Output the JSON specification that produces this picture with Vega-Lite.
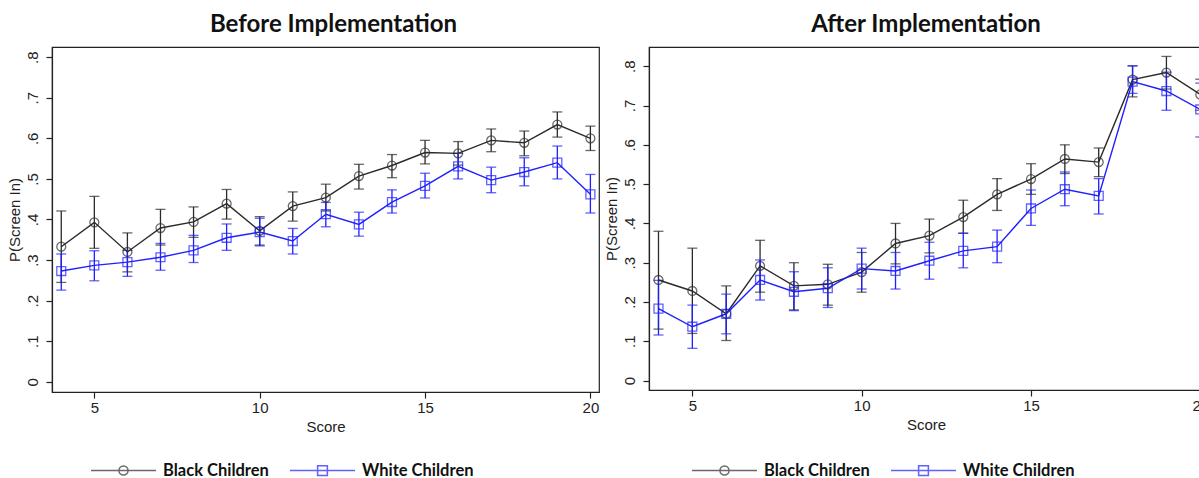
{
  "$schema": "https://vega.github.io/schema/vega-lite/v6.json",
  "background": "white",
  "padding": {"left": 6, "top": 12, "right": 0, "bottom": 0},
  "spacing": 3,
  "config": {
    "view": {"stroke": "#222222", "strokeWidth": 1.2},
    "font": "Liberation Sans",
    "axis": {"domainColor": "#222222", "tickColor": "#222222", "labelColor": "#222222", "titleColor": "#222222", "labelFont": "Liberation Sans", "titleFont": "Liberation Sans", "labelFontSize": 15, "titleFontSize": 15, "titleFontWeight": "normal", "grid": false, "tickSize": 6, "domainWidth": 1.2, "tickWidth": 1.2},
    "title": {"font": "Lato", "fontSize": 24, "fontWeight": "bold", "color": "#111111", "anchor": "middle", "offset": 10}
  },
  "datasets": {
    "d": [
      {"panel": "Before", "group": "Black Children", "score": 4, "p": 0.333, "lo": 0.245, "hi": 0.421},
      {"panel": "Before", "group": "Black Children", "score": 5, "p": 0.393, "lo": 0.329, "hi": 0.457},
      {"panel": "Before", "group": "Black Children", "score": 6, "p": 0.320, "lo": 0.271, "hi": 0.367},
      {"panel": "Before", "group": "Black Children", "score": 7, "p": 0.379, "lo": 0.337, "hi": 0.425},
      {"panel": "Before", "group": "Black Children", "score": 8, "p": 0.394, "lo": 0.356, "hi": 0.431},
      {"panel": "Before", "group": "Black Children", "score": 9, "p": 0.439, "lo": 0.401, "hi": 0.474},
      {"panel": "Before", "group": "Black Children", "score": 10, "p": 0.372, "lo": 0.337, "hi": 0.407},
      {"panel": "Before", "group": "Black Children", "score": 11, "p": 0.433, "lo": 0.396, "hi": 0.468},
      {"panel": "Before", "group": "Black Children", "score": 12, "p": 0.454, "lo": 0.421, "hi": 0.487},
      {"panel": "Before", "group": "Black Children", "score": 13, "p": 0.507, "lo": 0.475, "hi": 0.536},
      {"panel": "Before", "group": "Black Children", "score": 14, "p": 0.533, "lo": 0.503, "hi": 0.560},
      {"panel": "Before", "group": "Black Children", "score": 15, "p": 0.565, "lo": 0.537, "hi": 0.595},
      {"panel": "Before", "group": "Black Children", "score": 16, "p": 0.563, "lo": 0.534, "hi": 0.592},
      {"panel": "Before", "group": "Black Children", "score": 17, "p": 0.595, "lo": 0.567, "hi": 0.623},
      {"panel": "Before", "group": "Black Children", "score": 18, "p": 0.589, "lo": 0.557, "hi": 0.618},
      {"panel": "Before", "group": "Black Children", "score": 19, "p": 0.634, "lo": 0.603, "hi": 0.665},
      {"panel": "Before", "group": "Black Children", "score": 20, "p": 0.600, "lo": 0.570, "hi": 0.630},
      {"panel": "Before", "group": "White Children", "score": 4, "p": 0.273, "lo": 0.226, "hi": 0.315},
      {"panel": "Before", "group": "White Children", "score": 5, "p": 0.287, "lo": 0.249, "hi": 0.323},
      {"panel": "Before", "group": "White Children", "score": 6, "p": 0.295, "lo": 0.260, "hi": 0.324},
      {"panel": "Before", "group": "White Children", "score": 7, "p": 0.307, "lo": 0.275, "hi": 0.341},
      {"panel": "Before", "group": "White Children", "score": 8, "p": 0.324, "lo": 0.294, "hi": 0.361},
      {"panel": "Before", "group": "White Children", "score": 9, "p": 0.355, "lo": 0.324, "hi": 0.389},
      {"panel": "Before", "group": "White Children", "score": 10, "p": 0.369, "lo": 0.335, "hi": 0.403},
      {"panel": "Before", "group": "White Children", "score": 11, "p": 0.347, "lo": 0.315, "hi": 0.378},
      {"panel": "Before", "group": "White Children", "score": 12, "p": 0.413, "lo": 0.382, "hi": 0.442},
      {"panel": "Before", "group": "White Children", "score": 13, "p": 0.388, "lo": 0.359, "hi": 0.418},
      {"panel": "Before", "group": "White Children", "score": 14, "p": 0.443, "lo": 0.416, "hi": 0.473},
      {"panel": "Before", "group": "White Children", "score": 15, "p": 0.483, "lo": 0.453, "hi": 0.514},
      {"panel": "Before", "group": "White Children", "score": 16, "p": 0.531, "lo": 0.500, "hi": 0.563},
      {"panel": "Before", "group": "White Children", "score": 17, "p": 0.497, "lo": 0.466, "hi": 0.529},
      {"panel": "Before", "group": "White Children", "score": 18, "p": 0.517, "lo": 0.483, "hi": 0.552},
      {"panel": "Before", "group": "White Children", "score": 19, "p": 0.540, "lo": 0.500, "hi": 0.581},
      {"panel": "Before", "group": "White Children", "score": 20, "p": 0.462, "lo": 0.416, "hi": 0.511},
      {"panel": "After", "group": "Black Children", "score": 4, "p": 0.256, "lo": 0.131, "hi": 0.380},
      {"panel": "After", "group": "Black Children", "score": 5, "p": 0.228, "lo": 0.120, "hi": 0.337},
      {"panel": "After", "group": "Black Children", "score": 6, "p": 0.170, "lo": 0.102, "hi": 0.241},
      {"panel": "After", "group": "Black Children", "score": 7, "p": 0.292, "lo": 0.225, "hi": 0.357},
      {"panel": "After", "group": "Black Children", "score": 8, "p": 0.241, "lo": 0.180, "hi": 0.300},
      {"panel": "After", "group": "Black Children", "score": 9, "p": 0.245, "lo": 0.192, "hi": 0.296},
      {"panel": "After", "group": "Black Children", "score": 10, "p": 0.276, "lo": 0.225, "hi": 0.326},
      {"panel": "After", "group": "Black Children", "score": 11, "p": 0.349, "lo": 0.297, "hi": 0.400},
      {"panel": "After", "group": "Black Children", "score": 12, "p": 0.369, "lo": 0.325, "hi": 0.411},
      {"panel": "After", "group": "Black Children", "score": 13, "p": 0.416, "lo": 0.375, "hi": 0.459},
      {"panel": "After", "group": "Black Children", "score": 14, "p": 0.474, "lo": 0.433, "hi": 0.514},
      {"panel": "After", "group": "Black Children", "score": 15, "p": 0.513, "lo": 0.474, "hi": 0.552},
      {"panel": "After", "group": "Black Children", "score": 16, "p": 0.564, "lo": 0.527, "hi": 0.600},
      {"panel": "After", "group": "Black Children", "score": 17, "p": 0.556, "lo": 0.519, "hi": 0.592},
      {"panel": "After", "group": "Black Children", "score": 18, "p": 0.766, "lo": 0.722, "hi": 0.801},
      {"panel": "After", "group": "Black Children", "score": 19, "p": 0.784, "lo": 0.742, "hi": 0.825},
      {"panel": "After", "group": "Black Children", "score": 20, "p": 0.728, "lo": 0.688, "hi": 0.767},
      {"panel": "After", "group": "White Children", "score": 4, "p": 0.183, "lo": 0.116, "hi": 0.255},
      {"panel": "After", "group": "White Children", "score": 5, "p": 0.137, "lo": 0.082, "hi": 0.192},
      {"panel": "After", "group": "White Children", "score": 6, "p": 0.170, "lo": 0.119, "hi": 0.220},
      {"panel": "After", "group": "White Children", "score": 7, "p": 0.256, "lo": 0.205, "hi": 0.307},
      {"panel": "After", "group": "White Children", "score": 8, "p": 0.226, "lo": 0.178, "hi": 0.277},
      {"panel": "After", "group": "White Children", "score": 9, "p": 0.235, "lo": 0.186, "hi": 0.287},
      {"panel": "After", "group": "White Children", "score": 10, "p": 0.285, "lo": 0.233, "hi": 0.337},
      {"panel": "After", "group": "White Children", "score": 11, "p": 0.279, "lo": 0.233, "hi": 0.326},
      {"panel": "After", "group": "White Children", "score": 12, "p": 0.305, "lo": 0.258, "hi": 0.352},
      {"panel": "After", "group": "White Children", "score": 13, "p": 0.330, "lo": 0.287, "hi": 0.375},
      {"panel": "After", "group": "White Children", "score": 14, "p": 0.341, "lo": 0.300, "hi": 0.383},
      {"panel": "After", "group": "White Children", "score": 15, "p": 0.438, "lo": 0.395, "hi": 0.485},
      {"panel": "After", "group": "White Children", "score": 16, "p": 0.487, "lo": 0.445, "hi": 0.531},
      {"panel": "After", "group": "White Children", "score": 17, "p": 0.470, "lo": 0.424, "hi": 0.514},
      {"panel": "After", "group": "White Children", "score": 18, "p": 0.761, "lo": 0.731, "hi": 0.801},
      {"panel": "After", "group": "White Children", "score": 19, "p": 0.737, "lo": 0.688, "hi": 0.785},
      {"panel": "After", "group": "White Children", "score": 20, "p": 0.690, "lo": 0.620, "hi": 0.757}
    ]
  },
  "resolve": {"scale": {"color": "independent", "shape": "independent", "x": "independent", "y": "independent"}, "legend": {"color": "independent", "shape": "independent"}},
  "hconcat": [
    {
      "title": {"text": "Before Implementation", "dx": 8},
      "width": 547,
      "height": 345,
      "data": {"name": "d"},
      "transform": [{"filter": "datum.panel == 'Before'"}],
      "encoding": {
        "x": {"field": "score", "type": "quantitative", "scale": {"domain": [3.72, 20.26], "nice": false, "zero": false}, "axis": {"values": [5, 10, 15, 20], "title": "Score", "labelPadding": 2, "titlePadding": 4}}
      },
      "layer": [
        {"mark": {"type": "rule", "strokeWidth": 1.3}, "encoding": {"y": {"field": "lo", "type": "quantitative", "scale": {"domain": [-0.025, 0.825], "nice": false, "zero": false}, "axis": {"values": [0, 0.1, 0.2, 0.3, 0.4, 0.5, 0.6, 0.7, 0.8], "title": "P(Screen In)", "labelAngle": -90, "labelAlign": "center", "labelBaseline": "bottom", "labelPadding": 6, "titlePadding": 3, "labelExpr": "datum.value == 0 ? '0' : replace(format(datum.value, '.1f'), '0.', '.')"}}, "y2": {"field": "hi"}, "color": {"condition": {"test": "datum.group == 'White Children'", "value": "#1f1fff"}, "value": "#2a2a2a"}}},
        {"mark": {"type": "tick", "orient": "horizontal", "size": 10, "thickness": 1.3}, "encoding": {"y": {"field": "lo", "type": "quantitative"}, "color": {"condition": {"test": "datum.group == 'White Children'", "value": "#1f1fff"}, "value": "#2a2a2a"}}},
        {"mark": {"type": "tick", "orient": "horizontal", "size": 10, "thickness": 1.3}, "encoding": {"y": {"field": "hi", "type": "quantitative"}, "color": {"condition": {"test": "datum.group == 'White Children'", "value": "#1f1fff"}, "value": "#2a2a2a"}}},
        {"mark": {"type": "line", "strokeWidth": 1.4}, "encoding": {"y": {"field": "p", "type": "quantitative"}, "detail": {"field": "group", "type": "nominal"}, "color": {"condition": {"test": "datum.group == 'White Children'", "value": "#1f1fff"}, "value": "#2a2a2a"}}},
        {"mark": {"type": "point", "filled": false, "size": 80, "strokeWidth": 1.3}, "encoding": {"y": {"field": "p", "type": "quantitative"}, "color": {"condition": {"test": "datum.group == 'White Children'", "value": "#1f1fff"}, "value": "#2a2a2a"}, "shape": {"condition": {"test": "datum.group == 'White Children'", "value": "square"}, "value": "circle"}}},
        {"transform": [{"filter": "datum.score < 0"}], "mark": {"type": "point", "filled": false, "size": 4225, "strokeWidth": 1.5}, "encoding": {"y": {"field": "p", "type": "quantitative"},
          "color": {"field": "group", "type": "nominal", "scale": {"domain": ["Black Children", "White Children"], "range": ["#2a2a2a", "#1f1fff"]}, "legend": {"orient": "none", "legendX": 38, "legendY": 390, "direction": "horizontal", "title": null, "symbolSize": 4225, "symbolStrokeWidth": 1.5, "symbolFillColor": "transparent", "labelFont": "Lato", "labelFontSize": 16.5, "labelFontWeight": "bold", "labelColor": "#111111", "columnPadding": 18, "labelOffset": 6}},
          "shape": {"field": "group", "type": "nominal", "scale": {"domain": ["Black Children", "White Children"], "range": ["M-1,0H1M0.14,0A0.14,0.14 0 1,1 -0.14,0A0.14,0.14 0 1,1 0.14,0", "M-1,0H1M-0.15,-0.15H0.15V0.15H-0.15Z"]}, "legend": {"orient": "none", "legendX": 38, "legendY": 390, "direction": "horizontal", "title": null, "symbolSize": 4225, "symbolStrokeWidth": 1.5, "symbolFillColor": "transparent", "labelFont": "Lato", "labelFontSize": 16.5, "labelFontWeight": "bold", "labelColor": "#111111", "columnPadding": 18, "labelOffset": 6}}}}
      ]
    },
    {
      "title": "After Implementation",
      "width": 554,
      "height": 343,
      "data": {"name": "d"},
      "transform": [{"filter": "datum.panel == 'After'"}],
      "encoding": {
        "x": {"field": "score", "type": "quantitative", "scale": {"domain": [3.72, 20.08], "nice": false, "zero": false}, "axis": {"values": [5, 10, 15, 20], "title": "Score", "labelPadding": 2, "titlePadding": 4}}
      },
      "layer": [
        {"mark": {"type": "rule", "strokeWidth": 1.3}, "encoding": {"y": {"field": "lo", "type": "quantitative", "scale": {"domain": [-0.024, 0.849], "nice": false, "zero": false}, "axis": {"values": [0, 0.1, 0.2, 0.3, 0.4, 0.5, 0.6, 0.7, 0.8], "title": "P(Screen In)", "labelAngle": -90, "labelAlign": "center", "labelBaseline": "bottom", "labelPadding": 6, "titlePadding": 3, "labelExpr": "datum.value == 0 ? '0' : replace(format(datum.value, '.1f'), '0.', '.')"}}, "y2": {"field": "hi"}, "color": {"condition": {"test": "datum.group == 'White Children'", "value": "#1f1fff"}, "value": "#2a2a2a"}}},
        {"mark": {"type": "tick", "orient": "horizontal", "size": 10, "thickness": 1.3}, "encoding": {"y": {"field": "lo", "type": "quantitative"}, "color": {"condition": {"test": "datum.group == 'White Children'", "value": "#1f1fff"}, "value": "#2a2a2a"}}},
        {"mark": {"type": "tick", "orient": "horizontal", "size": 10, "thickness": 1.3}, "encoding": {"y": {"field": "hi", "type": "quantitative"}, "color": {"condition": {"test": "datum.group == 'White Children'", "value": "#1f1fff"}, "value": "#2a2a2a"}}},
        {"mark": {"type": "line", "strokeWidth": 1.4}, "encoding": {"y": {"field": "p", "type": "quantitative"}, "detail": {"field": "group", "type": "nominal"}, "color": {"condition": {"test": "datum.group == 'White Children'", "value": "#1f1fff"}, "value": "#2a2a2a"}}},
        {"mark": {"type": "point", "filled": false, "size": 80, "strokeWidth": 1.3}, "encoding": {"y": {"field": "p", "type": "quantitative"}, "color": {"condition": {"test": "datum.group == 'White Children'", "value": "#1f1fff"}, "value": "#2a2a2a"}, "shape": {"condition": {"test": "datum.group == 'White Children'", "value": "square"}, "value": "circle"}}},
        {"transform": [{"filter": "datum.score < 0"}], "mark": {"type": "point", "filled": false, "size": 4225, "strokeWidth": 1.5}, "encoding": {"y": {"field": "p", "type": "quantitative"},
          "color": {"field": "group", "type": "nominal", "scale": {"domain": ["Black Children", "White Children"], "range": ["#2a2a2a", "#1f1fff"]}, "legend": {"orient": "none", "legendX": 42, "legendY": 390, "direction": "horizontal", "title": null, "symbolSize": 4225, "symbolStrokeWidth": 1.5, "symbolFillColor": "transparent", "labelFont": "Lato", "labelFontSize": 16.5, "labelFontWeight": "bold", "labelColor": "#111111", "columnPadding": 18, "labelOffset": 6}},
          "shape": {"field": "group", "type": "nominal", "scale": {"domain": ["Black Children", "White Children"], "range": ["M-1,0H1M0.14,0A0.14,0.14 0 1,1 -0.14,0A0.14,0.14 0 1,1 0.14,0", "M-1,0H1M-0.15,-0.15H0.15V0.15H-0.15Z"]}, "legend": {"orient": "none", "legendX": 42, "legendY": 390, "direction": "horizontal", "title": null, "symbolSize": 4225, "symbolStrokeWidth": 1.5, "symbolFillColor": "transparent", "labelFont": "Lato", "labelFontSize": 16.5, "labelFontWeight": "bold", "labelColor": "#111111", "columnPadding": 18, "labelOffset": 6}}}}
      ]
    }
  ]
}
